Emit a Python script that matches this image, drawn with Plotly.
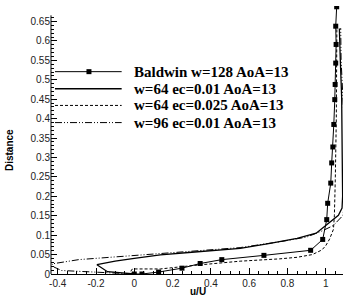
import plotly.graph_objects as go

# ---- data (u/U, Distance) ----
baldwin_x = [0.0, 0.040, 0.127, 0.249, 0.344, 0.457, 0.677, 0.921, 0.984, 1.005, 1.010,
             1.026, 1.031, 1.037, 1.042, 1.047, 1.049, 1.052, 1.054, 1.052, 1.057]
baldwin_y = [0.0, 0.0, 0.005, 0.015, 0.027, 0.037, 0.048, 0.061, 0.089, 0.140, 0.182,
             0.234, 0.286, 0.327, 0.385, 0.449, 0.488, 0.543, 0.591, 0.638, 0.688]

w64_x = [0.0, -0.10, -0.14, -0.195, -0.10, 0.0, 0.136, 0.30, 0.553, 0.709, 0.85, 0.95,
         1.0, 1.04, 1.066, 1.085, 1.088, 1.086, 1.083, 1.076, 1.071]
w64_y = [0.0, 0.003, 0.006, 0.024, 0.033, 0.040, 0.049, 0.056, 0.066, 0.079, 0.092, 0.105,
         0.125, 0.140, 0.151, 0.170, 0.200, 0.300, 0.456, 0.550, 0.632]

w64e_x = [0.0, -0.02, -0.01, 0.136, 0.31, 0.553, 0.76, 0.85, 0.93, 0.98, 1.0, 1.02,
          1.04, 1.045, 1.05, 1.055, 1.058]
w64e_y = [0.0, 0.006, 0.013, 0.013, 0.022, 0.033, 0.039, 0.043, 0.050, 0.062, 0.073, 0.090,
          0.115, 0.150, 0.250, 0.400, 0.633]

w96_x = [0.0, -0.20, -0.29, -0.38, -0.42, -0.43, -0.29, -0.10, 0.05, 0.30, 0.553, 0.76,
         0.90, 0.986, 1.04, 1.09, 1.10, 1.10, 1.09, 1.08, 1.078]
w96_y = [0.0, 0.004, 0.006, 0.009, 0.018, 0.026, 0.037, 0.044, 0.048, 0.057, 0.068, 0.083,
         0.095, 0.112, 0.125, 0.151, 0.200, 0.350, 0.450, 0.550, 0.633]

legend_names = ["Baldwin w=128 AoA=13", "w=64 ec=0.01 AoA=13",
                "w=64 ec=0.025 AoA=13", "w=96 ec=0.01 AoA=13"]

x_tickvals = [-0.4, -0.2, 0, 0.2, 0.4, 0.6, 0.8, 1]
x_ticktext = ["-0.4", "-0.2", "0", "0.2", "0.4", "0.6", "0.8", "1"]
y_tickvals = [0, 0.05, 0.1, 0.15, 0.2, 0.25, 0.3, 0.35, 0.4, 0.45, 0.5, 0.55, 0.6, 0.65]
y_ticktext = ["0", "0.05", "0.1", "0.15", "0.2", "0.25", "0.3", "0.35", "0.4", "0.45",
              "0.5", "0.55", "0.6", "0.65"]

x_minor = [round(-0.4 + 0.05 * i, 3) for i in range(30)]
y_minor = [round(0.01 * i, 3) for i in range(67)]

SOLID = "solid"
DASH = "3px,2px"
DASHDOT = "7px,2px,1px,2px,1px,2px"

fig = go.Figure()
fig.add_trace(go.Scatter(x=w96_x, y=w96_y, mode="lines",
                         line=dict(color="black", width=1, dash=DASHDOT), showlegend=False))
fig.add_trace(go.Scatter(x=w64e_x, y=w64e_y, mode="lines",
                         line=dict(color="black", width=1, dash=DASH), showlegend=False))
fig.add_trace(go.Scatter(x=w64_x, y=w64_y, mode="lines",
                         line=dict(color="black", width=1.3), showlegend=False))
fig.add_trace(go.Scatter(x=baldwin_x, y=baldwin_y, mode="lines+markers",
                         line=dict(color="black", width=1),
                         marker=dict(symbol="square", size=5, color="black"),
                         showlegend=False))

# ---- custom Tecplot-style legend ----
leg_rows = [0.755, 0.691, 0.629, 0.565]
leg_dash = [SOLID, SOLID, DASH, DASHDOT]
leg_width = [1, 1.5, 1, 1]
shapes = []
annotations = []
for name, yy, dsh, lw in zip(legend_names, leg_rows, leg_dash, leg_width):
    shapes.append(dict(type="line", xref="paper", yref="paper", x0=0.0137, x1=0.242,
                       y0=yy, y1=yy, line=dict(color="black", width=lw, dash=dsh)))
    annotations.append(dict(text="<b>" + name + "</b>", xref="paper", yref="paper",
                            x=0.277, y=yy, xanchor="left", yanchor="middle", showarrow=False,
                            font=dict(family="Liberation Serif, Times New Roman, serif",
                                      size=15, color="black")))
# marker in first legend row
shapes.append(dict(type="rect", xref="paper", yref="paper",
                   x0=0.130 - 2.5 / 292, x1=0.130 + 2.5 / 292,
                   y0=leg_rows[0] - 2.5 / 268, y1=leg_rows[0] + 2.5 / 268,
                   fillcolor="black", line=dict(width=0)))
# y axis line (stops below top)
shapes.append(dict(type="line", xref="paper", yref="y", x0=0, x1=0, y0=0, y1=0.666,
                   line=dict(color="black", width=1)))

annotations.append(dict(text="<b>Distance</b>", xref="paper", yref="paper", x=-0.140, y=0.463,
                        textangle=-90, showarrow=False, xanchor="center", yanchor="middle",
                        font=dict(family="Liberation Sans, Arial", size=10, color="black")))
annotations.append(dict(text="<b>u/U</b>", xref="paper", yref="paper", x=0.505, y=-0.066,
                        showarrow=False, xanchor="center", yanchor="middle",
                        font=dict(family="Liberation Sans, Arial", size=10, color="black")))

fig.update_layout(
    width=343, height=296,
    margin=dict(l=51, r=0, t=6, b=22),
    paper_bgcolor="white", plot_bgcolor="white",
    shapes=shapes, annotations=annotations,
    font=dict(family="Liberation Sans, Arial", size=10, color="black"),
    xaxis=dict(range=[-0.435, 1.09], showgrid=False, zeroline=False, automargin=False,
               showline=True, linecolor="black", linewidth=1,
               tickmode="array", tickvals=x_tickvals, ticktext=x_ticktext,
               ticks="inside", ticklen=6, tickcolor="black", tickwidth=1,
               tickfont=dict(size=10, color="#222"),
               minor=dict(tickmode="array", tickvals=x_minor, ticks="inside",
                          ticklen=3, tickcolor="black", tickwidth=1, showgrid=False)),
    yaxis=dict(range=[0, 0.69], showgrid=False, zeroline=False, showline=False, automargin=False,
               tickmode="array", tickvals=y_tickvals, ticktext=y_ticktext,
               ticks="inside", ticklen=6, tickcolor="black", tickwidth=1,
               tickfont=dict(size=10, color="#222"),
               minor=dict(tickmode="array", tickvals=y_minor, ticks="inside",
                          ticklen=3, tickcolor="black", tickwidth=1, showgrid=False)),
)

fig.write_html("out.html", config={"displayModeBar": False},
               post_script="document.body.style.margin='0';document.body.style.overflow='hidden';")
